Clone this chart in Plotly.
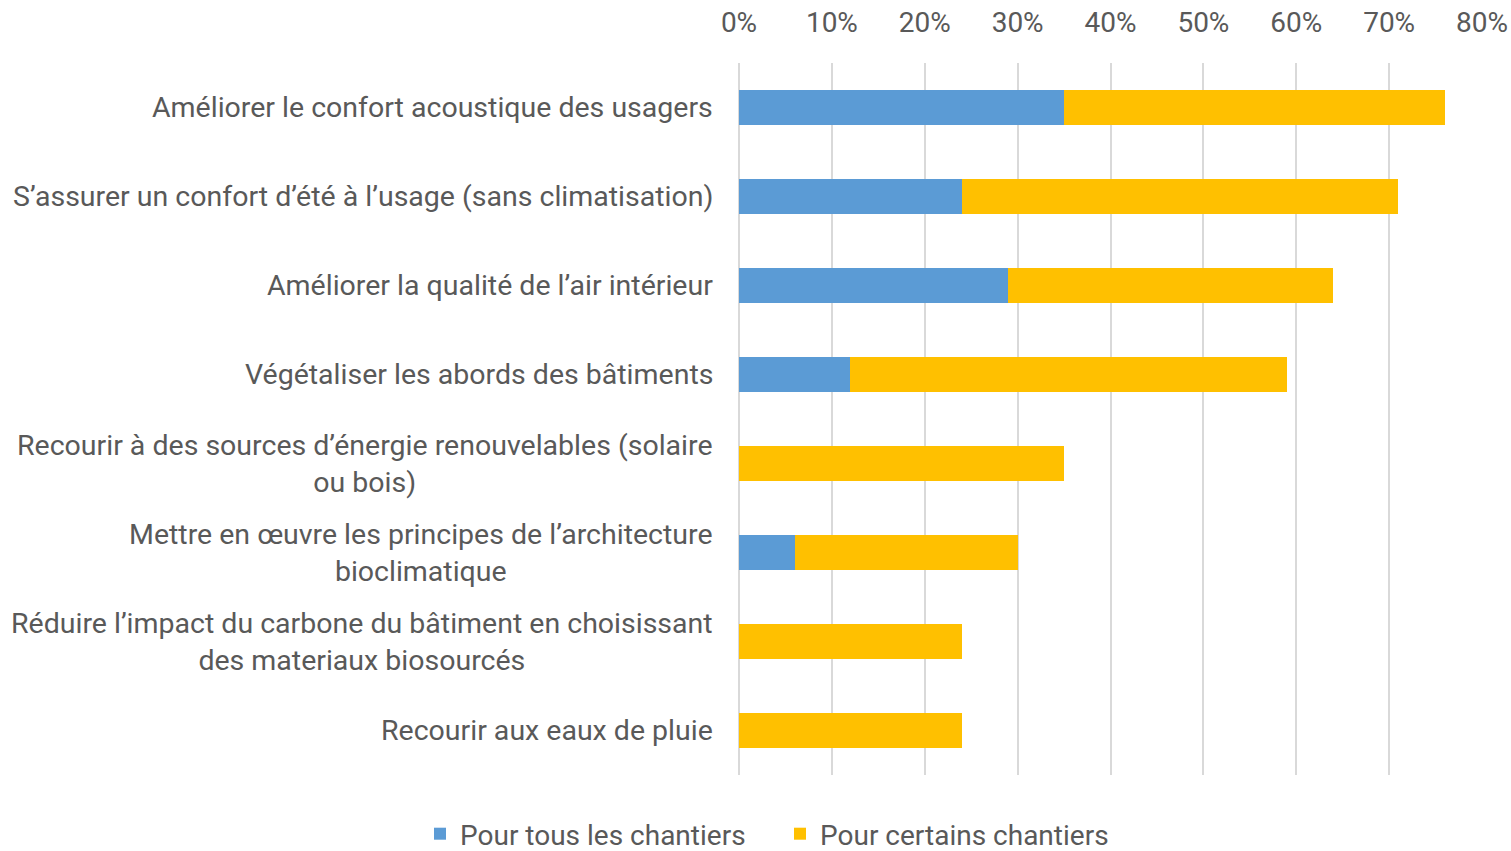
import plotly.graph_objects as go

categories = [
    "Améliorer le confort acoustique des usagers",
    "S’assurer un confort d’été à l’usage (sans climatisation)",
    "Améliorer la qualité de l’air intérieur",
    "Végétaliser les abords des bâtiments",
    "Recourir à des sources d’énergie renouvelables (solaire<br>ou bois)",
    "Mettre en œuvre les principes de l’architecture<br>bioclimatique",
    "Réduire l’impact du carbone du bâtiment en choisissant<br>des materiaux biosourcés",
    "Recourir aux eaux de pluie",
]
tous = [0.35, 0.24, 0.29, 0.12, 0.0, 0.06, 0.0, 0.0]
certains = [0.41, 0.47, 0.35, 0.47, 0.35, 0.24, 0.24, 0.24]
tick_vals = [0, 0.1, 0.2, 0.3, 0.4, 0.5, 0.6, 0.7, 0.8]
tick_text = ["0%", "10%", "20%", "30%", "40%", "50%", "60%", "70%", "80%"]

blue = '#5B9BD5'
yellow = '#FFC000'
grid_color = '#d9d9d9'
text_color = '#595959'
font_family = 'Roboto'
font_size = 28

ids = list(range(len(categories)))

fig = go.Figure()
fig.add_trace(go.Bar(
    y=ids, x=tous, orientation='h', name='Pour tous les chantiers',
    marker=dict(color=blue, line=dict(width=0))
))
fig.add_trace(go.Bar(
    y=ids, x=certains, orientation='h', name='Pour certains chantiers',
    marker=dict(color=yellow, line=dict(width=0))
))

# Category labels, centered multi-line like the original
for i, label in zip(ids, categories):
    fig.add_annotation(
        x=0, xref='paper', y=i, yref='y', text=label,
        xanchor='right', yanchor='middle', align='center', xshift=-24,
        showarrow=False, font=dict(family=font_family, size=28.5, color=text_color)
    )

fig.update_layout(
    barmode='stack',
    bargap=0.6,
    width=1511, height=851,
    margin=dict(l=739, r=29, t=63, b=76, autoexpand=False),
    plot_bgcolor='white', paper_bgcolor='white',
    font=dict(family=font_family, size=font_size, color=text_color),
    legend=dict(
        orientation='h', xref='container', yref='container',
        x=420 / 1511, xanchor='left', y=17 / 851, yanchor='middle',
        traceorder='normal', entrywidth=315, entrywidthmode='pixels',
        font=dict(family=font_family, size=font_size, color=text_color),
    ),
    showlegend=True,
)
fig.update_xaxes(
    side='top', range=[0, 0.8], tickvals=tick_vals, ticktext=tick_text,
    showgrid=True, gridcolor=grid_color, gridwidth=2,
    zeroline=True, zerolinecolor=grid_color, zerolinewidth=2,
    showline=False, ticks='', ticklabelstandoff=24, automargin=False,
    tickfont=dict(family=font_family, size=font_size, color=text_color)
)
fig.update_yaxes(
    range=[len(categories) - 0.5, -0.5], showticklabels=False, automargin=False,
    showgrid=False, zeroline=False, showline=False, ticks=''
)

# drop the default page margin so the figure fills the window exactly
fig.write_html(
    "out.html",
    config={'displayModeBar': False},
    post_script="document.body.style.margin='0';document.body.style.overflow='hidden';"
)
